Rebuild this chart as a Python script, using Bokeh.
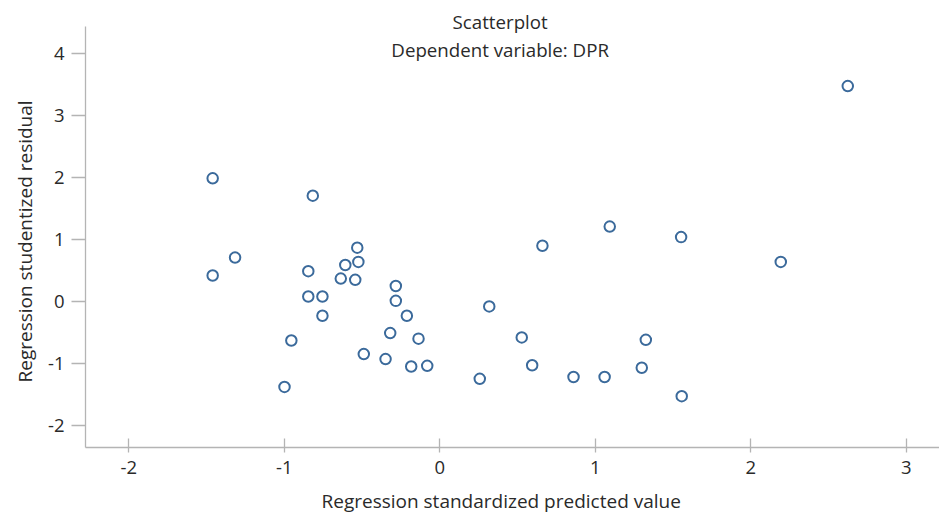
from bokeh.plotting import figure
from bokeh.models import FixedTicker, Label, Range1d, Title
from bokeh.embed import file_html
from bokeh.resources import INLINE

# Regression standardized predicted value (x) and studentized residual (y)
pred = [-1.461, -1.461, -1.317, -0.817, -0.955, -0.999,
        -0.846, -0.846, -0.755, -0.755, -0.637, -0.608,
        -0.531, -0.524, -0.544, -0.489, -0.319, -0.349,
        -0.283, -0.283, -0.212, -0.137, -0.184, -0.081,
        0.257, 0.318, 0.527, 0.594, 0.660, 0.860,
        1.060, 1.093, 1.299, 1.325, 1.552, 1.556,
        2.193, 2.624]
resid = [1.99, 0.42, 0.71, 1.71, -0.63, -1.38,
         0.49, 0.08, 0.08, -0.23, 0.37, 0.59,
         0.87, 0.64, 0.35, -0.85, -0.51, -0.93,
         0.25, 0.01, -0.23, -0.60, -1.05, -1.04,
         -1.25, -0.08, -0.58, -1.03, 0.90, -1.22,
         -1.22, 1.21, -1.07, -0.62, 1.04, -1.53,
         0.64, 3.48]

x_ticks = [-2, -1, 0, 1, 2, 3]
y_ticks = [-2, -1, 0, 1, 2, 3, 4]

title_lines = ["Scatterplot", "Dependent variable: DPR"]
x_label = "Regression standardized predicted value"
y_label = "Regression studentized residual"

FONT = "Open Sans"
TICK_FS = "18.5px"
LABEL_FS = "19px"
TITLE_FS = "18.7px"
TEXT = "#2a2a2a"
AXIS = "#b4b4b4"

p = figure(width=939, height=513, frame_width=854, frame_height=447,
           output_backend="svg", toolbar_location=None,
           x_range=Range1d(-2.279, 3.214), y_range=Range1d(-2.359, 4.863),
           min_border_left=85, min_border_right=0, min_border_top=0,
           min_border_bottom=66)
p.outline_line_color = None
p.xgrid.visible = False
p.ygrid.visible = False
p.background_fill_color = "white"
p.border_fill_color = "white"

p.scatter(pred, resid, marker="circle", size=10.5, line_width=2,
          line_color="#3b6a9b", fill_color="white")

for ax in (p.xaxis[0], p.yaxis[0]):
    ax.axis_line_color = AXIS
    ax.axis_line_width = 1.3
    ax.major_tick_line_color = AXIS
    ax.major_tick_line_width = 1.3
    ax.minor_tick_line_color = None
    ax.major_label_text_font = FONT
    ax.major_label_text_font_size = TICK_FS
    ax.major_label_text_color = TEXT

p.xaxis.ticker = FixedTicker(ticks=x_ticks)
p.yaxis.ticker = FixedTicker(ticks=y_ticks)
p.xaxis.major_label_overrides = {t: str(t) for t in x_ticks}
p.yaxis.major_label_overrides = {t: str(t) for t in y_ticks}
p.xaxis.major_tick_in = 9
p.xaxis.major_tick_out = 5
p.yaxis.major_tick_in = 0
p.yaxis.major_tick_out = 14
p.xaxis.major_label_standoff = 8
p.yaxis.major_label_standoff = 7
p.yaxis.bounds = (-2.359, 4.44)

# axis titles as side titles, shifted to sit where the reference has them
p.add_layout(Title(text=x_label, align="left", offset=236, standoff=18,
                   vertical_align="bottom", text_font=FONT,
                   text_font_size=LABEL_FS, text_font_style="normal",
                   text_color=TEXT), "below")
p.add_layout(Title(text=y_label, align="left", offset=65, standoff=13,
                   vertical_align="bottom", text_font=FONT,
                   text_font_size=LABEL_FS, text_font_style="normal",
                   text_color=TEXT), "left")

# chart title
p.add_layout(Label(x=0.388, y=4.519, x_units="data", y_units="data",
                   text=title_lines[0], text_align="center",
                   text_baseline="alphabetic", text_font=FONT,
                   text_font_size=TITLE_FS, text_color=TEXT))
p.add_layout(Label(x=0.388, y=4.067, x_units="data", y_units="data",
                   text=title_lines[1], text_align="center",
                   text_baseline="alphabetic", text_font=FONT,
                   text_font_size=TITLE_FS, text_color=TEXT))

open("out.html", "w").write(file_html(p, INLINE))
